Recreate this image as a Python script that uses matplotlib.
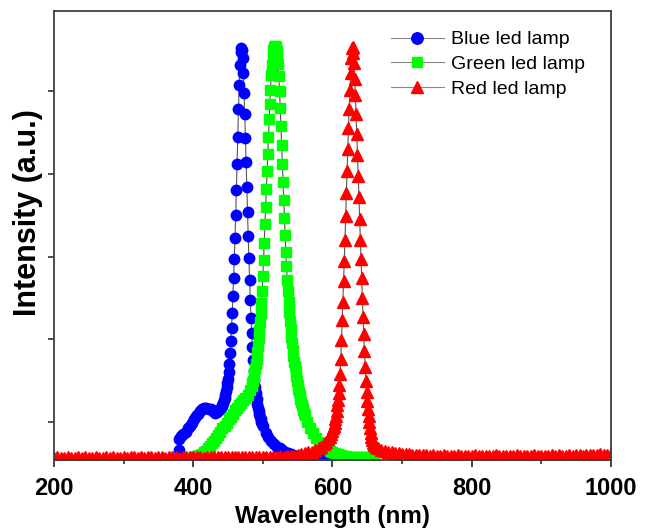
import numpy as np
import matplotlib
matplotlib.use("Agg")
import matplotlib.pyplot as plt
from matplotlib.ticker import MultipleLocator

# ---------------- data ----------------
blue_wl = [379, 380, 383, 386, 389, 392, 395, 398, 401, 404, 407, 410, 413, 416, 419, 422, 425, 428, 431, 434, 437, 440,
           441, 442, 443, 444, 445, 446, 447, 448, 449, 450, 451, 452, 453, 454, 455, 456, 457, 458, 459, 460,
           461, 462, 463, 464, 465, 466, 467, 468, 469, 470, 471, 472, 473, 474, 475, 476, 477, 478, 479, 480,
           481, 482, 483, 484, 485, 486, 487, 488, 489, 490, 491, 492, 493, 494, 495, 496, 497, 498, 499, 500,
           504, 508, 512, 516, 520, 524, 528, 532, 536, 540, 544, 548, 552, 556, 560, 564, 568, 572, 576, 580,
           584, 588, 592, 596, 600]
blue_int = [0.66, 0.79, 0.83, 0.85, 0.88, 0.92, 0.95, 0.99, 1.03, 1.07, 1.10, 1.13, 1.15, 1.17, 1.17, 1.16, 1.15, 1.13, 1.11, 1.12, 1.14, 1.17,
            1.19, 1.21, 1.23, 1.26, 1.29, 1.33, 1.37, 1.42, 1.47, 1.52, 1.60, 1.70, 1.83, 1.98, 2.14, 2.32, 2.52, 2.74, 2.97, 3.22,
            3.50, 3.80, 4.12, 4.45, 4.78, 5.08, 5.32, 5.48, 5.52, 5.50, 5.40, 5.22, 4.98, 4.72, 4.44, 4.14, 3.84, 3.54, 3.25, 2.98,
            2.72, 2.48, 2.26, 2.07, 1.90, 1.75, 1.62, 1.51, 1.42, 1.35, 1.28, 1.22, 1.17, 1.13, 1.09, 1.06, 1.03, 1.00, 0.97, 0.95,
            0.87, 0.82, 0.77, 0.73, 0.70, 0.68, 0.66, 0.64, 0.62, 0.61, 0.60, 0.59, 0.59, 0.58, 0.58, 0.58, 0.57, 0.57, 0.57, 0.57,
            0.57, 0.57, 0.57, 0.57, 0.57]

green_wl = [400, 403, 406, 409, 412, 415, 418, 421, 424, 427, 430, 433, 436, 439, 442, 445, 448, 451, 454, 457, 460, 463,
            466, 469, 472, 475, 478, 481, 484,
            485, 486, 487, 488, 489, 490, 491, 492, 493, 494, 495, 496, 497, 498, 499, 500, 501, 502, 503, 504,
            505, 506, 507, 508, 509, 510, 511, 512, 513, 514, 515, 516, 517, 518, 519, 520, 521, 522, 523, 524,
            525, 526, 527, 528, 529, 530, 531, 532, 533, 534, 535, 536, 537, 538, 539, 540, 541, 542, 543, 544,
            545, 546, 547, 548, 549, 550, 551, 552, 553, 554, 555, 556, 557, 558, 559, 560,
            564, 568, 572, 576, 580, 584, 588, 592, 596, 600, 604, 608, 612, 616, 620, 624, 628, 632, 636, 640,
            644, 648, 652, 656, 660]
green_int = [0.57, 0.57, 0.59, 0.60, 0.61, 0.63, 0.65, 0.68, 0.71, 0.74, 0.77, 0.80, 0.84, 0.88, 0.92, 0.95, 0.99, 1.03, 1.06, 1.10, 1.14, 1.17,
             1.20, 1.23, 1.26, 1.29, 1.33, 1.38, 1.43,
             1.47, 1.50, 1.54, 1.59, 1.64, 1.70, 1.76, 1.84, 1.92, 2.01, 2.11, 2.21, 2.32, 2.44, 2.58, 2.76, 2.96, 3.17, 3.39, 3.60,
             3.82, 4.03, 4.24, 4.45, 4.66, 4.84, 5.01, 5.20, 5.32, 5.43, 5.50, 5.54, 5.55, 5.55, 5.53, 5.49, 5.42, 5.33, 5.18, 5.00,
             4.80, 4.58, 4.35, 4.12, 3.90, 3.68, 3.47, 3.26, 3.06, 2.88, 2.72, 2.58, 2.45, 2.33, 2.22, 2.12, 2.03, 1.95, 1.87, 1.80,
             1.73, 1.67, 1.61, 1.55, 1.50, 1.45, 1.40, 1.36, 1.32, 1.28, 1.24, 1.20, 1.17, 1.14, 1.11, 1.08,
             1.00, 0.93, 0.86, 0.81, 0.76, 0.73, 0.70, 0.67, 0.65, 0.63, 0.62, 0.61, 0.60, 0.59, 0.59, 0.58, 0.58, 0.58, 0.57, 0.57,
             0.57, 0.57, 0.57, 0.57, 0.57]

red_wl = [200, 205, 210, 215, 220, 225, 230, 235, 240, 245, 250, 255, 260, 265, 270, 275, 280, 285, 290, 295,
          300, 305, 310, 315, 320, 325, 330, 335, 340, 345, 350, 355, 360, 365, 370, 375, 380, 385, 390, 395,
          400, 405, 410, 415, 420, 425, 430, 435, 440, 445, 450, 455, 460, 465, 470, 475, 480, 485, 490, 495,
          500, 505, 510, 515, 520, 525, 530, 535, 540, 545, 550, 555, 560, 565, 570, 575, 580, 584, 588, 591,
          594, 596, 598, 600, 601, 602, 603, 604, 605, 606, 607, 608, 609, 610, 611, 612, 613, 614, 615, 616,
          617, 618, 619, 620, 621, 622, 623, 624, 625, 626, 627, 628, 629, 630, 631, 632, 633, 634, 635, 636,
          637, 638, 639, 640, 641, 642, 643, 644, 645, 646, 647, 648, 649, 650, 651, 652, 653, 654, 655, 656,
          657, 658, 660, 662, 665, 670, 675, 680, 685, 690, 695, 700, 705, 710, 715, 720, 725, 730, 735, 740,
          745, 750, 755, 760, 765, 770, 775, 780, 785, 790, 795, 800, 805, 810, 815, 820, 825, 830, 835, 840,
          845, 850, 855, 860, 865, 870, 875, 880, 885, 890, 895, 900, 905, 910, 915, 920, 925, 930, 935, 940,
          945, 950, 955, 960, 965, 970, 975, 980, 985, 990, 995, 1000]
red_int = [0.56, 0.57, 0.56, 0.56, 0.57, 0.56, 0.56, 0.57, 0.56, 0.57, 0.56, 0.56, 0.57, 0.56, 0.56, 0.57, 0.56, 0.57, 0.56, 0.56,
           0.57, 0.56, 0.57, 0.57, 0.56, 0.57, 0.56, 0.57, 0.57, 0.56, 0.57, 0.57, 0.56, 0.57, 0.57, 0.57, 0.56, 0.57, 0.57, 0.57,
           0.57, 0.57, 0.57, 0.56, 0.57, 0.57, 0.57, 0.57, 0.57, 0.57, 0.57, 0.58, 0.57, 0.57, 0.58, 0.57, 0.58, 0.58, 0.57, 0.58,
           0.58, 0.58, 0.58, 0.58, 0.58, 0.59, 0.58, 0.59, 0.59, 0.59, 0.60, 0.61, 0.62, 0.63, 0.64, 0.66, 0.68, 0.70, 0.73, 0.76,
           0.79, 0.82, 0.85, 0.89, 0.92, 0.95, 0.99, 1.03, 1.07, 1.13, 1.20, 1.27, 1.35, 1.45, 1.58, 1.76, 1.99, 2.23, 2.45, 2.70,
           2.95, 3.20, 3.49, 3.77, 4.04, 4.30, 4.55, 4.79, 5.02, 5.22, 5.40, 5.52, 5.54, 5.46, 5.34, 5.15, 4.95, 4.72, 4.48, 4.23,
           3.98, 3.72, 3.45, 3.20, 2.97, 2.74, 2.50, 2.27, 2.06, 1.86, 1.66, 1.49, 1.36, 1.25, 1.16, 1.07, 1.00, 0.93, 0.87, 0.82,
           0.78, 0.75, 0.72, 0.70, 0.68, 0.66, 0.65, 0.64, 0.63, 0.62, 0.62, 0.61, 0.61, 0.61, 0.60, 0.60, 0.60, 0.60, 0.60, 0.59,
           0.60, 0.59, 0.59, 0.60, 0.59, 0.59, 0.59, 0.60, 0.59, 0.59, 0.59, 0.59, 0.60, 0.59, 0.59, 0.59, 0.59, 0.59, 0.60, 0.59,
           0.59, 0.59, 0.59, 0.59, 0.60, 0.59, 0.59, 0.59, 0.59, 0.60, 0.59, 0.59, 0.59, 0.59, 0.60, 0.59, 0.60, 0.59, 0.59, 0.60,
           0.59, 0.60, 0.60, 0.59, 0.60, 0.60, 0.60, 0.60, 0.61, 0.60, 0.60, 0.61]

labels = ["Blue led lamp", "Green led lamp", "Red led lamp"]
x_ticks = [200, 400, 600, 800, 1000]

# ---------------- plot ----------------
fig = plt.figure(figsize=(6.46, 5.28), dpi=100)
ax = fig.add_axes([0.0836, 0.129, 0.862, 0.850])

line_kw = dict(color="#555555", linewidth=0.8)
ax.plot(blue_wl, blue_int, marker="o", markersize=7.5, markerfacecolor="#0000FF",
        markeredgecolor="#0000FF", label=labels[0], **line_kw)
ax.plot(green_wl, green_int, marker="s", markersize=6.5, markerfacecolor="#00FF00",
        markeredgecolor="#00FF00", label=labels[1], **line_kw)
ax.plot(red_wl, red_int, marker="^", markersize=8, markerfacecolor="#FF0000",
        markeredgecolor="#FF0000", label=labels[2], **line_kw)

ax.set_xlim(200, 1000)
ax.set_ylim(0.54, 5.97)
ax.set_xticks(x_ticks)
ax.xaxis.set_minor_locator(MultipleLocator(100))
ax.set_yticks([1, 2, 3, 4, 5])
ax.set_yticklabels([])

for s in ax.spines.values():
    s.set_color("#404040")
    s.set_linewidth(1.3)

ax.tick_params(axis="x", which="major", direction="out", length=5, width=1.2, color="#222222",
               labelsize=17, pad=7)
ax.tick_params(axis="x", which="minor", direction="out", length=3, width=1.1, color="#222222")
ax.tick_params(axis="y", which="major", direction="out", length=4.5, width=1.1, color="#222222")
for lab in ax.get_xticklabels():
    lab.set_fontfamily("Liberation Sans")
    lab.set_fontweight("bold")

ax.set_xlabel("Wavelength (nm)", fontsize=17.5, fontweight="bold", family="Liberation Sans", labelpad=4)
ax.set_ylabel("Intensity (a.u.)", fontsize=22, fontweight="bold", family="Liberation Sans")
ax.yaxis.set_label_coords(-0.02, 0.552)

leg = ax.legend(loc="upper left", bbox_to_anchor=(0.574, 0.995), frameon=False,
                prop={"family": "Liberation Sans", "size": 14}, handlelength=2.7,
                handletextpad=0.36, labelspacing=0.36, borderpad=0.4, markerscale=1.1)
for h in leg.get_lines():
    h.set_color("#888888")

fig.savefig("out.png", dpi=100)
